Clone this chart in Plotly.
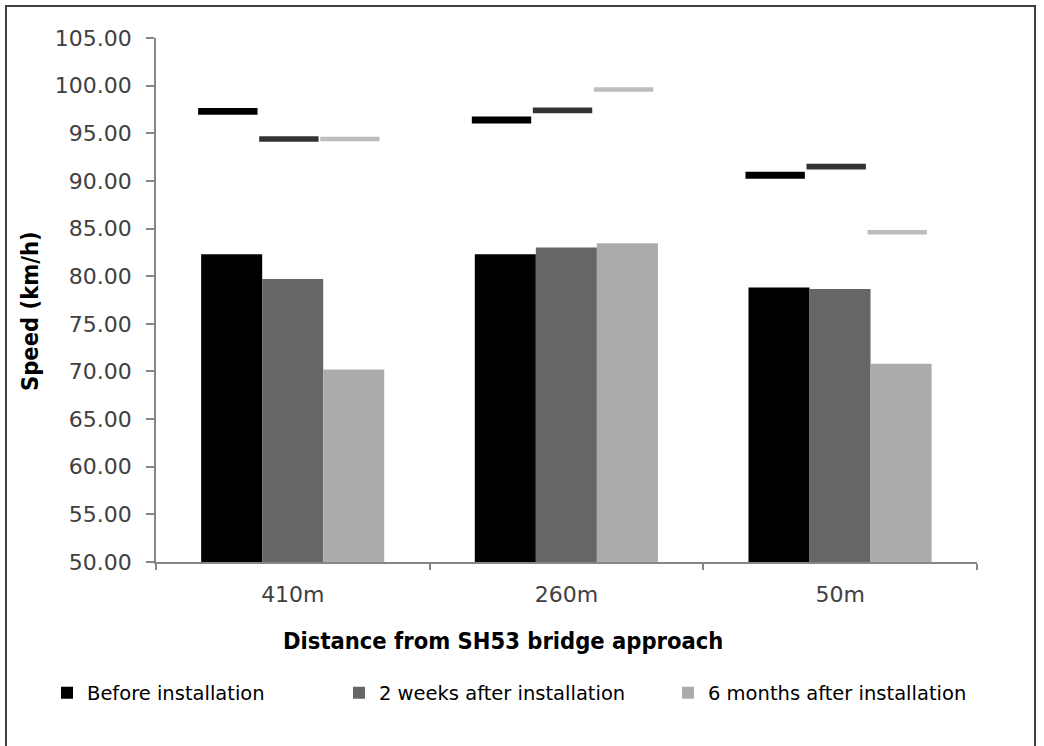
import plotly.graph_objects as go

categories = ["410m", "260m", "50m"]
series_names = ["Before installation", "2 weeks after installation", "6 months after installation"]
mean_before = [82.3, 82.3, 78.8]
mean_2weeks = [79.7, 83.0, 78.65]
mean_6months = [70.2, 83.45, 70.8]
p85_before = [97.3, 96.4, 90.6]
p85_2weeks = [94.4, 97.4, 91.5]
p85_6months = [94.4, 99.6, 84.6]
y_ticks = [50, 55, 60, 65, 70, 75, 80, 85, 90, 95, 100, 105]

W, H = 1044, 746
L, R, T, B = 156, 977, 38, 562

def px_x(p):
    return (p - L) / (R - L)

def px_y(p):
    return (B - p) / (B - T)

bar_colors = ["#000000", "#666666", "#ABABAB"]
line_colors = ["#000000", "#333333", "#BDBDBD"]
line_thick = [0.73, 0.6, 0.47]
offsets = [-0.335, -0.112, 0.111]
bw = 0.223

means = [mean_before, mean_2weeks, mean_6months]
p85s = [p85_before, p85_2weeks, p85_6months]
legends = ["legend", "legend2", "legend3"]

fig = go.Figure()
for i in range(3):
    fig.add_trace(go.Bar(
        x=categories, y=means[i], name=series_names[i],
        marker=dict(color=bar_colors[i], line=dict(width=0)),
        offset=offsets[i], width=bw, legend=legends[i],
    ))
for i in range(3):
    fig.add_trace(go.Bar(
        x=categories, y=[line_thick[i]] * 3,
        base=[v - line_thick[i] / 2 for v in p85s[i]],
        marker=dict(color=line_colors[i], line=dict(width=0)),
        offset=offsets[i] - 0.011, width=bw - 0.006, showlegend=False,
    ))

tick_font = dict(family="DejaVu Sans", size=22, color="#404040")
leg_font = dict(family="DejaVu Sans", size=19.5, color="#000000")
title_font = dict(family="DejaVu Sans Condensed", size=23.5, color="#000000", weight="bold")

leg_x_px = [47, 339, 668]
leg_common = dict(orientation="h", yanchor="middle", xanchor="left",
                  font=leg_font, bgcolor="rgba(0,0,0,0)", itemwidth=30)

fig.update_layout(
    width=W, height=H,
    margin=dict(l=L, r=W - R, t=T, b=H - B),
    paper_bgcolor="white", plot_bgcolor="white",
    barmode="overlay",
    legend=dict(x=px_x(leg_x_px[0]), y=px_y(693), **leg_common),
    legend2=dict(x=px_x(leg_x_px[1]), y=px_y(693), **leg_common),
    legend3=dict(x=px_x(leg_x_px[2]), y=px_y(693), **leg_common),
    xaxis=dict(
        range=[-0.5, 2.5], showgrid=False, showline=True, linecolor="#868686", linewidth=1.5,
        ticks="outside", tickson="boundaries", ticklen=6, tickcolor="#868686", tickwidth=1.5,
        tickfont=tick_font, ticklabelstandoff=12,
    ),
    yaxis=dict(
        range=[50, 105], tickvals=y_ticks, tickformat=".2f", showgrid=False, zeroline=False,
        showline=True, linecolor="#868686", linewidth=1.5,
        ticks="outside", ticklen=8, tickcolor="#868686", tickwidth=1.5,
        tickfont=tick_font, ticklabelstandoff=10,
    ),
    annotations=[
        dict(text="Distance from SH53 bridge approach", xref="paper", yref="paper",
             x=px_x(502.5), y=px_y(641), xanchor="center", yanchor="middle",
             showarrow=False, font=title_font),
        dict(text="Speed (km/h)", xref="paper", yref="paper",
             x=px_x(30), y=px_y(311), xanchor="center", yanchor="middle",
             showarrow=False, textangle=-90, font=title_font),
    ],
    shapes=[
        dict(type="rect", xref="paper", yref="paper",
             x0=px_x(6), x1=px_x(1035), y0=px_y(760), y1=px_y(6),
             line=dict(color="#404040", width=2), fillcolor="rgba(0,0,0,0)", layer="below"),
    ],
)

fig.write_html("out.html")
